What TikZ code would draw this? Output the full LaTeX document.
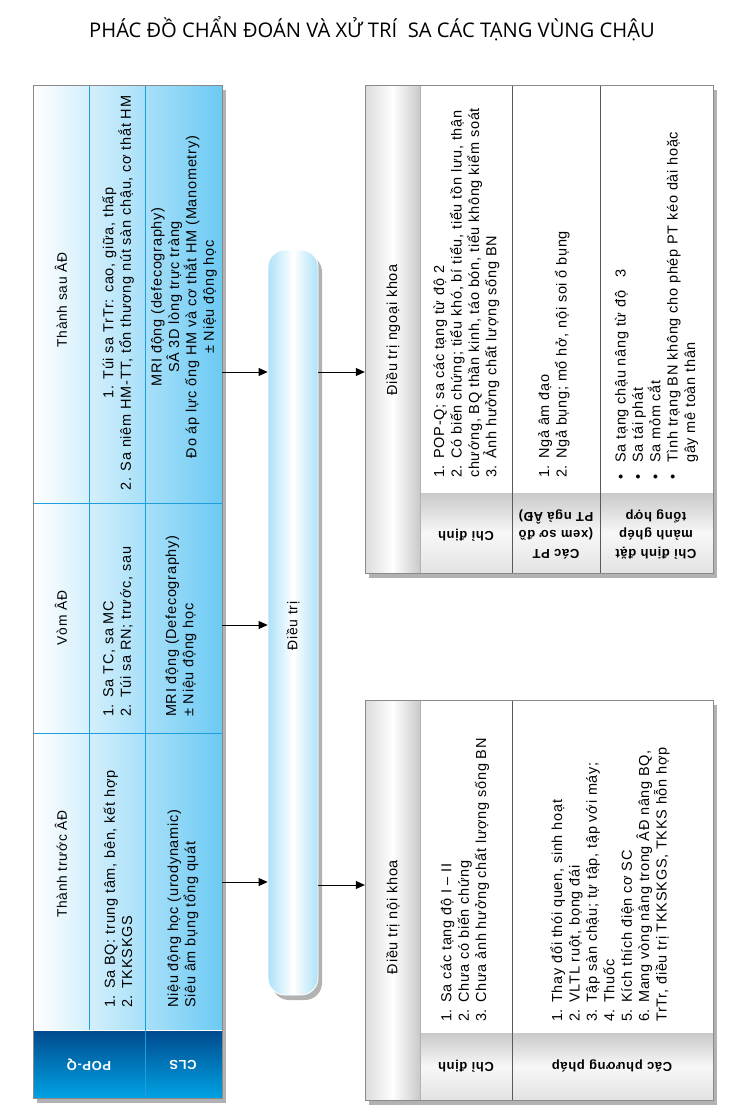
\documentclass[tikz,border=0pt]{standalone}
\usepackage{fontspec}
\setmainfont{Liberation Sans}[LetterSpace=5]
\newfontfamily\titlefont{Open Sans}
\usetikzlibrary{arrows.meta,shadows,positioning}
\definecolor{skyblue}{HTML}{6CCAF4}
\definecolor{navyhead}{HTML}{004A8D}
\definecolor{brighthead}{HTML}{00A2E4}
\definecolor{tblline}{HTML}{1E9EDC}
\definecolor{pillblue}{HTML}{AEE2F8}
\definecolor{boxframe}{HTML}{8A8A8A}
\tikzset{
    pelvic diagram/.style = {x=1pt, y=-1pt, >={Triangle[length=9pt,width=8pt]}},
    line/.style        = {line width=0.8pt},
    boxshadow/.style   = {drop shadow={shadow xshift=4pt, shadow yshift=-5pt,
                          fill=black!55, opacity=0.55}},
    bluetable/.style   = {draw=boxframe, boxshadow, left color=white, right color=skyblue,
                          inner sep=0, minimum width=189pt, minimum height=1013pt},
    graytable/.style   = {draw=boxframe, boxshadow, fill=white,
                          inner sep=0, minimum width=348pt},
    strip/.style       = {left color=gray!28, right color=gray!42, middle color=white},
    headcell/.style    = {top color=gray!42, bottom color=gray!22, middle color=gray!6},
    txt/.style         = {rotate=90, inner sep=0, align=left,
                          font=\fontsize{14.5}{17.4}\selectfont},
    ctxt/.style        = {txt, align=center},
    coltitle/.style    = {ctxt, font=\fontsize{13.8}{17}\selectfont},
    hdr/.style         = {rotate=180, inner sep=0, align=center,
                          font=\fontsize{13}{18.5}\selectfont\bfseries},
    divider/.style     = {draw=black!65, semithick},
    tblrule/.style     = {draw=tblline, thin},
    pill/.style        = {draw=white, thick, rounded corners=17pt,
                          left color=pillblue, right color=pillblue, middle color=white,
                          minimum width=50pt, minimum height=745pt, boxshadow}
}

\begin{document}
\begin{tikzpicture}[pelvic diagram]
\useasboundingbox (0,0) rectangle (742,1117);
\node[font=\titlefont\fontsize{20.2}{21}\selectfont] (title) at (372,29)
    {PHÁC ĐỒ CHẨN ĐOÁN VÀ XỬ TRÍ\ \ SA CÁC TẠNG VÙNG CHẬU};

% diagnosis table
\node[bluetable] (pelvic) at (127.5,591.5) {};
\fill[top color=navyhead, bottom color=brighthead] (33,1030) rectangle (222,1098);
\draw[white, thick] (33,1030) -- (222,1030);
\draw[tblrule] (33,503) -- (222,503);
\draw[tblrule] (33,733) -- (222,733);
\draw[tblrule] (89,85) -- (89,1030);
\draw[tblrule] (145,85) -- (145,1098);
\draw[boxframe] (pelvic.north west) rectangle (pelvic.south east);

\node[coltitle] (sautitle) at (61,300) {Thành sau ÂĐ};
\node[ctxt] (saupopq) at (118,293)
    {1. Túi sa TrTr: cao, giữa, thấp\\2. Sa niêm HM-TT, tổn thương nút sàn chậu, cơ thắt HM};
\node[ctxt] (saucls) at (184,297)
    {MRI động (defecography)\\SÂ 3D lòng trực tràng\\Đo áp lực ống HM và cơ thắt HM (Manometry)\\± Niệu động học};
\node[coltitle] (vomtitle) at (61,618) {Vòm ÂĐ};
\node[txt,anchor=west] (vompopq) at (118,717) {1. Sa TC, sa MC\\2. Túi sa RN; trước, sau};
\node[txt,anchor=west] (vomcls) at (181,717) {MRI động (Defecography)\\± Niệu động học};
\node[coltitle] (truoctitle) at (61,864) {Thành trước ÂĐ};
\node[txt,anchor=west] (truocpopq) at (118,1008) {1. Sa BQ: trung tâm, bên, kết hợp\\2. TKKSKGS};
\node[txt,anchor=west] (truoccls) at (183,1008) {Niệu động học (urodynamic)\\Siêu âm bụng tổng quát};
\node[hdr,text=white] (popq) at (89,1065) {POP-Q};
\node[hdr,text=white] (cls) at (183,1065) {CLS};

% treatment
\node[pill] (treat) at (293,622.5) {};
\node[ctxt,font=\fontsize{14}{17}\selectfont] (treatlabel) at (293,626) {Điều trị};

% surgical box
\node[graytable,minimum height=488pt] (surgery) at (539,329) {};
\fill[strip] (365,85) rectangle (420,573);
\fill[headcell] (420,493) rectangle (713,573);
\draw[gray!60] (420,85) -- (420,573);
\draw[divider] (512,85) -- (512,573);
\draw[divider] (600,85) -- (600,573);
\draw[boxframe] (surgery.north west) rectangle (surgery.south east);

\node[ctxt] (surgtitle) at (393,330) {Điều trị ngoại khoa};
\node[txt,anchor=west] (surgind) at (466.5,478)
    {1. POP-Q; sa các tạng từ độ 2\\2. Có biến chứng; tiểu khó, bí tiểu, tiểu tồn lưu, thận\\chướng, BQ thần kinh, táo bón, tiểu không kiểm soát\\3. Ảnh hưởng chất lượng sống BN};
\node[txt,anchor=west] (surgpt) at (554,478) {1. Ngả âm đạo\\2. Ngả bụng; mổ hở, nội soi ổ bụng};
\node[txt,anchor=west] (surgmesh) at (656.5,480)
    {\textbullet\hspace{12pt}Sa tạng chậu nâng từ độ\hspace{13pt}3\\
     \textbullet\hspace{12pt}Sa tái phát\\
     \textbullet\hspace{12pt}Sa mỏm cắt\\
     \textbullet\hspace{12pt}Tình trạng BN không cho phép PT kéo dài hoặc\\
     \hphantom{\textbullet\hspace{12pt}}gây mê toàn thân};
\node[hdr] (surgindhead) at (466,535) {Chỉ định};
\node[hdr] (surgpthead) at (556,534) {Các PT\\(xem sơ đồ\\PT ngả ÂĐ)};
\node[hdr] (surgmeshhead) at (656,534) {Chỉ định đặt\\mảnh ghép\\tổng hợp};

% medical box
\node[graytable,minimum height=400pt] (medical) at (539,900) {};
\fill[strip] (365,700) rectangle (420,1100);
\fill[headcell] (420,1033) rectangle (713,1100);
\draw[gray!60] (420,700) -- (420,1100);
\draw[divider] (512,700) -- (512,1100);
\draw[boxframe] (medical.north west) rectangle (medical.south east);

\node[ctxt] (medtitle) at (393,917) {Điều trị nội khoa};
\node[txt,anchor=west] (medind) at (465,1022)
    {1. Sa các tạng độ I – II\\2. Chưa có biến chứng\\3. Chưa ảnh hưởng chất lượng sống BN};
\node[txt,anchor=west] (medmethod) at (610,1022)
    {1. Thay đổi thói quen, sinh hoạt\\2. VLTL ruột, bọng đái\\3. Tập sàn chậu; tự tập, tập với máy;\\4. Thuốc\\5. Kích thích điện cơ SC\\6. Mang vòng nâng trong ÂĐ nâng BQ,\\TrTr, điều trị TKKSKGS, TKKS hỗn hợp};
\node[hdr] (medindhead) at (466,1066) {Chỉ định};
\node[hdr] (medmethodhead) at (612,1066) {Các phương pháp};

% connectors
\foreach \y in {372,625,882}
    \draw[->,line] (pelvic.east |- 0,\y) -- (treat.west |- 0,\y);
\draw[->,line] (treat.east |- 0,372) -- (surgery.west |- 0,372);
\draw[->,line] (treat.east |- 0,885) -- (medical.west |- 0,885);
\end{tikzpicture}
\end{document}
